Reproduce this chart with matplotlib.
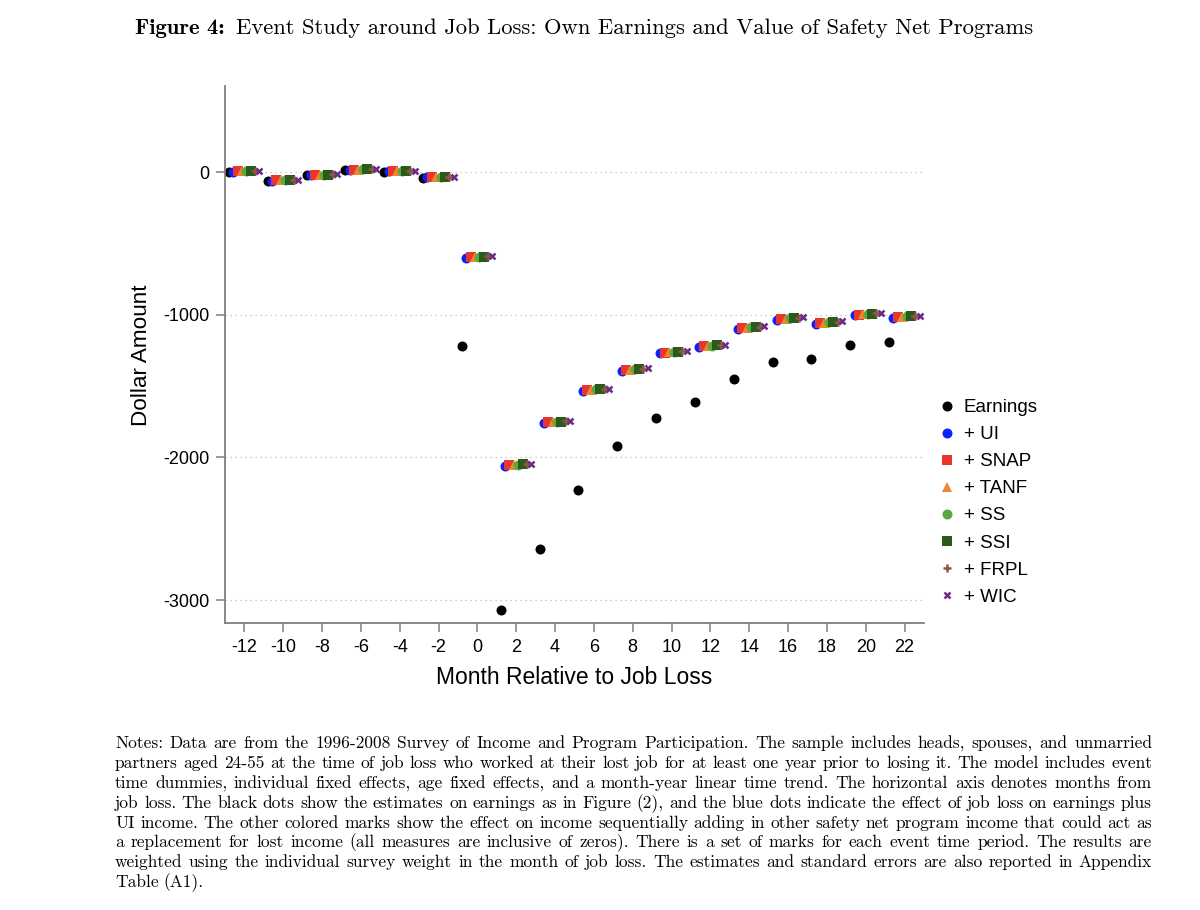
import math
import numpy as np
import matplotlib
matplotlib.use("Agg")
import matplotlib.pyplot as plt
from matplotlib.lines import Line2D
from matplotlib.font_manager import FontProperties
from matplotlib.backends.backend_agg import get_hinting_flag

plt.rcParams['axes.unicode_minus'] = False

# event time (months relative to job loss)
months = [-12, -10, -8, -6, -4, -2, 0, 2, 4, 6, 8, 10, 12, 14, 16, 18, 20, 22]

earnings = [2, -62, -22, 15, 3, -40, -1216, -3070, -2642, -2228, -1918, -1724,
            -1614, -1448, -1331, -1310, -1214, -1193]
ui = [3, -60, -20, 16, 4, -38, -600, -2062, -1762, -1535, -1392, -1270,
      -1226, -1098, -1034, -1062, -1004, -1022]
snap = [4, -59, -19, 17, 5, -37, -596, -2055, -1755, -1528, -1386, -1265,
        -1221, -1092, -1029, -1057, -999, -1017]
tanf = [4, -59, -19, 17, 5, -37, -595, -2053, -1753, -1526, -1384, -1263,
        -1219, -1090, -1027, -1055, -997, -1015]
ss = [5, -58, -18, 18, 6, -36, -593, -2050, -1750, -1523, -1381, -1260,
      -1216, -1087, -1024, -1052, -994, -1012]
ssi = [5, -58, -18, 18, 6, -36, -592, -2049, -1749, -1522, -1380, -1259,
       -1215, -1086, -1023, -1051, -993, -1011]
frpl = [6, -57, -17, 19, 7, -35, -590, -2046, -1746, -1519, -1377, -1256,
        -1212, -1083, -1020, -1048, -990, -1008]
wic = [6, -57, -17, 19, 7, -35, -590, -2045, -1745, -1518, -1376, -1255,
       -1211, -1082, -1019, -1047, -989, -1007]

labels = ['Earnings', '+ UI', '+ SNAP', '+ TANF', '+ SS', '+ SSI', '+ FRPL', '+ WIC']
series = [earnings, ui, snap, tanf, ss, ssi, frpl, wic]

notes = [
    "Notes: Data are from the 1996-2008 Survey of Income and Program Participation. The sample includes heads, spouses, and unmarried",
    "partners aged 24-55 at the time of job loss who worked at their lost job for at least one year prior to losing it. The model includes event",
    "time dummies, individual fixed effects, age fixed effects, and a month-year linear time trend. The horizontal axis denotes months from",
    "job loss. The black dots show the estimates on earnings as in Figure (2), and the blue dots indicate the effect of job loss on earnings plus",
    "UI income. The other colored marks show the effect on income sequentially adding in other safety net program income that could act as",
    "a replacement for lost income (all measures are inclusive of zeros). There is a set of marks for each event time period. The results are",
    "weighted using the individual survey weight in the month of job loss. The estimates and standard errors are also reported in Appendix",
    "Table (A1).",
]

# marker styles: (marker, color, size)
styles = [
    ('o', 'black', 7.2),
    ('o', '#0a22ff', 7.2),
    ('s', '#e8362b', 6.8),
    ('^', '#f0852e', 7.4),
    ('o', '#56aa40', 7.2),
    ('s', '#2d5a1c', 6.8),
    ('+', '#8c5844', 5.5),
    ('x', '#6b2a88', 4.5),
]
offsets = [-0.8 + 0.225 * k for k in range(8)]

fig = plt.figure(figsize=(12, 9.1), dpi=100)
ax = fig.add_axes([0.1875, 0.315, 0.5825, 0.59])

for ys, (m, c, s), off in zip(series, styles, offsets):
    xs = np.array(months) + off
    if m in ('+', 'x'):
        ax.plot(xs, ys, linestyle='none', marker=m, color=c, markersize=s,
                markeredgewidth=1.8)
    else:
        ax.plot(xs, ys, linestyle='none', marker=m, color=c, markersize=s,
                markeredgewidth=0)

ax.set_xlim(-13, 23)
ax.set_ylim(-3163, 600)
ax.set_xticks(range(-12, 23, 2))
ax.set_yticks([0, -1000, -2000, -3000])
ax.yaxis.grid(True, linestyle=(0, (1, 3)), color='#bbbbbb', linewidth=0.9)
ax.set_axisbelow(True)
for sp in ['top', 'right']:
    ax.spines[sp].set_visible(False)
for sp in ['left', 'bottom']:
    ax.spines[sp].set_color('#7f7f7f')
    ax.spines[sp].set_linewidth(1.3)
ax.tick_params(axis='both', colors='#7f7f7f', length=6.5, width=1.1,
               labelsize=13, labelcolor='black', pad=5)
for t in ax.get_xticklabels() + ax.get_yticklabels():
    t.set_family('Liberation Sans')
ax.set_xlabel('Month Relative to Job Loss', fontsize=16.5, family='Liberation Sans', labelpad=7)
ax.set_ylabel('Dollar Amount', fontsize=16.2, family='Liberation Sans', labelpad=8)

handles = []
for (m, c, s) in styles:
    if m in ('+', 'x'):
        handles.append(Line2D([], [], linestyle='none', marker=m, color=c,
                              markersize=s, markeredgewidth=1.8))
    else:
        handles.append(Line2D([], [], linestyle='none', marker=m, color=c,
                              markersize=s, markeredgewidth=0))
fig.legend(handles, labels, loc='upper left', bbox_to_anchor=(0.7655, 0.58),
           frameon=False, prop={'family': 'Liberation Sans', 'size': 13.5},
           handletextpad=0.3, labelspacing=0.53, handlelength=1.2)

fig.canvas.draw()
renderer = fig.canvas.get_renderer()
W, H = fig.bbox.width, fig.bbox.height


def y_for_row(word, prop, row):
    # agg places each word bitmap with some integer rounding; pick the
    # baseline so that every word lands on the same pixel row
    font = renderer._prepare_font(prop)
    font.set_text(word, 0, flags=get_hinting_flag())
    _, h26 = font.get_width_height()
    d26 = font.get_descent()
    y_max = h26 - d26
    k = -(int(h26) // 64 + 2) + math.floor(y_max / 64) + 2
    y_screen = row - k - d26 / 64.0
    return 1 - y_screen / H


# title with bold "Figure 4:"
p_bold = FontProperties(family='cmb10', size=16.3)
p_reg = FontProperties(family='cmr10', size=16.3)
t1_s = 'Figure 4:'
t2_s = 'Event Study around Job Loss: Own Earnings and Value of Safety Net Programs'
t1 = fig.text(0, 0, t1_s, fontproperties=p_bold)
t2 = fig.text(0, 0, t2_s, fontproperties=p_reg)
w1 = t1.get_window_extent(renderer).width
w2 = t2.get_window_extent(renderer).width
sp = 11
x0 = 584 - (w1 + sp + w2) / 2
t1.set_position((x0 / W, y_for_row(t1_s, p_bold, 34)))
t2.set_position(((x0 + w1 + sp) / W, y_for_row(t2_s, p_reg, 34)))

# notes: justified, one text per word
p_note = FontProperties(family='cmr10', size=12.5)
left_px, right_px = 115, 1152
line_y = 748.0
for i, line in enumerate(notes):
    words = line.split(' ')
    objs = [fig.text(0, 0, w, fontproperties=p_note, va='baseline') for w in words]
    widths = [o.get_window_extent(renderer).width for o in objs]
    if i < len(notes) - 1:
        gap = (right_px - left_px - sum(widths)) / (len(words) - 1)
    else:
        gap = 4.5
    row = int(round(line_y))
    x = left_px
    for o, w, wd in zip(objs, widths, words):
        o.set_position((x / W, y_for_row(wd, p_note, row)))
        x += w + gap
    line_y += 19.9

fig.savefig('out.png', dpi=100)
